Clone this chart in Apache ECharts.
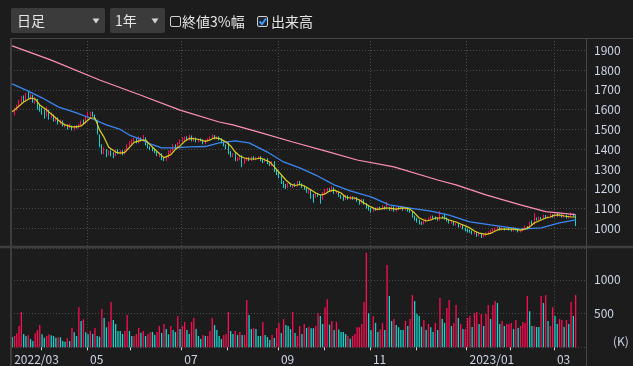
<!DOCTYPE html>
<html><head><meta charset="utf-8">
<script src="https://cdn.jsdelivr.net/npm/echarts@6/dist/echarts.min.js"></script>
<style>html,body{margin:0;padding:0;background:#1c1c1c;overflow:hidden}#c{width:633px;height:366px}</style>
</head><body><div id="c"></div><script>
// ---- data ----
const months = ['2022/03','2022/04','2022/05','2022/06','2022/07','2022/08','2022/09','2022/10','2022/11','2022/12','2023/01','2023/02','2023/03'];
const monthDays = [13,20,19,22,20,22,20,20,20,22,19,19,10];
const xTickLabels = {'2022/03':'2022/03','2022/05':'05','2022/07':'07','2022/09':'09','2022/11':'11','2023/01':'2023/01','2023/03':'03'};

const opens = [
1560,1580,1605,1620,1645,1665,1655,1680,1660,1670,1640,1650,1615,
1605,1590,1575,1595,1560,1570,1545,1555,1530,1540,1515,1520,1510,1515,1500,1515,1510,1525,1545,1535,
1565,1570,1585,1570,1545,1470,1420,1380,1395,1375,1390,1380,1370,1395,1380,1390,1380,1395,1420,
1430,1440,1450,1435,1455,1445,1455,1425,1410,1400,1395,1385,1365,1375,1355,1345,1360,1385,1395,1420,1410,1430,
1440,1450,1462,1450,1465,1445,1455,1440,1450,1445,1430,1445,1450,1460,1468,1455,1460,1450,1435,1420,
1430,1385,1365,1380,1345,1350,1365,1330,1345,1355,1345,1360,1350,1355,1360,1345,1340,1350,1330,1320,1335,1295,
1285,1265,1235,1220,1210,1225,1210,1225,1215,1235,1225,1210,1200,1180,1195,1170,1160,1175,1165,1150,
1180,1190,1200,1190,1205,1180,1185,1165,1160,1150,1165,1150,1160,1150,1155,1140,1130,1145,1125,1110,
1100,1090,1100,1095,1105,1100,1110,1100,1105,1095,1110,1090,1105,1100,1110,1095,1105,1090,1085,1060,
1050,1040,1030,1025,1035,1045,1050,1060,1055,1050,1045,1060,1055,1050,1040,1030,1035,1020,1025,1010,1015,1000,
995,990,985,975,980,965,975,960,965,975,980,990,995,1000,1005,995,1000,995,1000,
995,990,1000,995,985,990,1000,1010,1005,1030,1025,1050,1045,1055,1050,1065,1055,1060,1070,
1060,1075,1065,1070,1060,1065,1055,1060,1070,1065];
const closes = [
1575,1600,1615,1640,1660,1650,1675,1660,1670,1645,1655,1610,1600,
1585,1570,1600,1560,1575,1550,1560,1530,1540,1520,1525,1505,1520,1500,1515,1510,1525,1540,1530,1560,
1575,1580,1570,1555,1480,1420,1385,1400,1370,1390,1375,1365,1395,1380,1390,1375,1395,1420,1430,
1445,1450,1435,1455,1445,1460,1425,1410,1400,1395,1385,1370,1375,1350,1345,1360,1390,1395,1420,1405,1430,1440,
1455,1460,1450,1470,1445,1455,1440,1450,1445,1430,1445,1450,1460,1465,1455,1460,1450,1435,1420,1410,
1380,1370,1375,1345,1355,1360,1330,1350,1355,1345,1360,1350,1355,1360,1345,1340,1350,1330,1320,1335,1290,1280,
1260,1230,1215,1210,1225,1215,1220,1215,1235,1225,1210,1200,1185,1195,1170,1160,1175,1165,1150,1180,
1195,1200,1190,1210,1180,1185,1165,1160,1150,1165,1150,1160,1150,1155,1140,1130,1145,1125,1110,1100,
1090,1100,1095,1105,1100,1110,1100,1105,1095,1110,1090,1105,1100,1110,1095,1105,1090,1085,1060,1050,
1040,1030,1025,1035,1045,1050,1060,1055,1050,1045,1060,1055,1050,1040,1030,1035,1020,1025,1010,1015,1000,995,
990,985,975,980,965,975,960,965,975,980,990,995,1000,1005,995,1000,995,1000,995,
990,1000,995,985,990,1000,1010,1005,1030,1025,1050,1045,1055,1050,1065,1055,1060,1070,1060,
1075,1065,1070,1060,1065,1055,1060,1070,1065,1015];
const highs = [
1590,1610,1625,1650,1670,1672,1685,1690,1680,1675,1665,1655,1625,
1610,1600,1615,1600,1585,1575,1565,1560,1550,1545,1530,1525,1530,1520,1520,1520,1530,1545,1550,1565,
1590,1590,1590,1575,1550,1475,1425,1410,1400,1395,1395,1385,1400,1400,1395,1395,1400,1425,1440,
1450,1458,1455,1465,1460,1472,1460,1430,1415,1410,1400,1390,1385,1380,1360,1365,1395,1400,1425,1425,1435,1450,
1460,1465,1465,1475,1470,1460,1460,1455,1455,1450,1450,1455,1465,1475,1472,1465,1465,1455,1440,1425,
1435,1390,1380,1385,1360,1365,1370,1355,1360,1360,1365,1365,1360,1365,1365,1350,1355,1355,1335,1340,1340,1300,
1290,1270,1240,1225,1230,1230,1225,1228,1240,1240,1228,1215,1205,1200,1198,1175,1180,1180,1170,1185,
1200,1205,1205,1215,1208,1190,1188,1170,1165,1170,1168,1165,1162,1160,1158,1145,1150,1148,1128,1115,
1105,1105,1105,1110,1110,1118,1112,1135,1108,1115,1112,1108,1108,1115,1112,1108,1108,1095,1088,1065,
1055,1045,1035,1040,1050,1055,1065,1065,1060,1055,1088,1062,1075,1055,1045,1040,1038,1030,1028,1020,1018,1005,
1000,995,990,985,982,980,978,970,980,985,995,1000,1005,1010,1008,1005,1003,1005,1003,
1000,1005,1003,1000,995,1005,1015,1012,1035,1040,1078,1055,1060,1058,1070,1068,1065,1075,1072,
1080,1078,1075,1072,1070,1068,1065,1080,1075,1068];
const lows = [
1550,1570,1595,1610,1635,1640,1645,1655,1650,1635,1630,1600,1590,
1575,1555,1565,1550,1555,1540,1540,1525,1525,1515,1510,1500,1505,1495,1495,1505,1505,1520,1525,1530,
1555,1565,1565,1550,1475,1410,1375,1375,1360,1370,1365,1355,1365,1375,1375,1370,1375,1390,1415,
1425,1435,1430,1430,1440,1440,1420,1405,1395,1390,1380,1365,1360,1345,1340,1340,1355,1380,1390,1400,1405,1425,
1435,1445,1445,1445,1440,1440,1435,1435,1440,1425,1425,1440,1445,1455,1450,1450,1445,1430,1415,1400,
1375,1360,1360,1340,1340,1345,1310,1325,1340,1340,1340,1345,1345,1350,1340,1330,1335,1325,1315,1315,1285,1270,
1255,1225,1205,1200,1205,1210,1205,1210,1210,1220,1205,1195,1180,1175,1150,1130,1155,1160,1125,1145,
1175,1185,1185,1185,1175,1175,1160,1150,1140,1145,1145,1145,1145,1145,1135,1120,1125,1120,1100,1090,
1080,1085,1090,1090,1095,1095,1095,1095,1090,1090,1085,1085,1095,1095,1090,1090,1085,1080,1055,1040,
1030,1020,1018,1020,1030,1040,1045,1050,1045,1040,1040,1050,1045,1035,1025,1025,1015,1015,1005,1005,995,985,
980,978,970,970,958,960,952,955,960,970,975,985,990,995,990,990,990,992,990,
985,985,990,980,980,985,995,995,1000,1015,1020,1040,1040,1045,1045,1050,1050,1055,1055,
1055,1060,1060,1055,1055,1050,1050,1058,1060,1012];

// volume in thousands of shares (K)
const volumes = [
152,168,207,316,524,197,168,178,123,94,
207,257,331,193,143,168,193,178,168,143,
148,148,94,84,133,94,286,222,168,593,
390,415,222,193,242,197,286,168,158,568,
435,297,380,672,405,346,242,242,197,242,
479,242,168,168,197,286,217,242,168,197,
222,227,183,227,316,212,346,271,193,316,
257,227,464,271,316,375,257,197,375,435,
271,168,123,183,168,168,242,435,331,257,
168,123,183,197,524,242,197,242,183,227,
183,183,702,479,271,286,271,168,168,375,
183,152,109,183,138,286,361,212,420,331,
316,271,524,212,168,316,197,346,286,301,
282,282,316,504,464,346,593,712,336,390,
257,380,264,227,227,197,168,128,168,197,
297,297,346,672,1404,504,257,464,361,227,
264,361,257,1221,761,390,420,331,297,257,
257,390,316,420,776,687,499,464,306,405,
257,346,297,227,361,257,731,420,361,583,
702,316,361,628,435,346,271,271,435,464,
301,509,524,346,494,316,494,628,420,628,
687,657,346,390,316,346,346,361,271,405,
286,316,375,361,761,534,316,316,301,300,
761,657,776,390,316,593,464,346,420,405,
301,405,346,672,464,776];
// colour of each volume bar as seen (1 = red, 0 = cyan)
const volUp = [
0,1,1,1,1,0,0,1,0,0, 1,1,1,0,0,1,1,0,0,0, 1,0,0,0,1,0,1,0,0,1, 0,1,0,0,1,0,1,0,0,1,
0,0,1,1,0,0,0,0,0,1, 1,0,0,1,1,1,0,1,0,1, 1,0,0,1,1,0,1,0,0,1, 0,0,1,0,1,1,0,0,1,1,
0,0,0,1,0,1,1,1,0,0, 0,0,1,1,1,0,0,1,0,1, 0,1,1,0,0,1,0,0,0,1, 0,0,0,1,0,1,1,0,1,0,
0,0,1,0,1,1,0,1,0,1,
0,0,1,1,0,0,1,1,0,1, 0,1,0,0,0,0,1,0,1,1, 1,1,1,1,1,0,0,1,0,0, 1,1,0,1,0,0,1,0,0,0,
0,1,0,1,1,0,0,0,0,1, 0,1,0,0,1,0,1,0,0,1, 1,0,1,1,0,1,0,1,1,1, 0,1,1,0,1,0,1,1,0,1,
1,0,0,1,0,1,1,1,0,1, 0,1,1,1,1,0,0,1,0,0, 1,0,1,0,1,1,0,0,1,1, 0,1,0,1,0,1];

// moving-average lines read as [day index, price]
const ma5 = [[0,1590],[1,1598],[5,1639],[8,1659],[10,1654],[12,1624],[15,1598],[17,1578],[19,1558],[21,1538],[23,1523],[26,1513],[28,1513],[30,1518],[32,1538],[34,1558],[36,1558],[38,1498],[40,1460],[42,1410],[45,1386],[47,1381],[49,1384],[51,1410],[53,1435],[56,1445],[58,1447],[60,1422],[62,1400],[64,1378],[66,1358],[69,1373],[71,1400],[73,1417],[75,1440],[77,1455],[80,1452],[82,1447],[84,1440],[86,1447],[88,1458],[90,1455],[93,1437],[95,1417],[97,1386],[99,1366],[101,1356],[103,1351],[106,1351],[108,1356],[110,1346],[112,1336],[114,1311],[116,1285],[119,1245],[121,1225],[123,1217],[125,1222],[127,1215],[130,1194],[132,1179],[134,1169],[136,1174],[138,1189],[140,1194],[143,1179],[145,1159],[147,1154],[149,1154],[151,1144],[153,1129],[156,1109],[158,1098],[160,1098],[162,1103],[164,1103],[167,1098],[169,1103],[171,1103],[173,1098],[175,1078],[177,1053],[180,1038],[182,1043],[184,1053],[186,1053],[188,1053],[190,1043],[193,1033],[195,1023],[197,1013],[199,1003],[201,987],[203,977],[206,970],[208,975],[210,987],[212,997],[214,997],[216,997],[218,997],[221,992],[223,997],[225,1008],[227,1028],[230,1043],[232,1053],[234,1058],[236,1068],[238,1068],[240,1063],[243,1058],[245,1058]];
const ma25 = [[0,1730],[7,1694],[13,1660],[20,1614],[27,1588],[34,1558],[41,1523],[47,1500],[51,1472],[56,1450],[60,1427],[65,1407],[71,1407],[77,1412],[84,1414],[90,1432],[97,1442],[103,1432],[111,1386],[118,1336],[125,1306],[132,1270],[140,1220],[147,1190],[156,1160],[164,1119],[173,1103],[182,1088],[190,1068],[199,1033],[208,1018],[221,997],[230,1003],[238,1028],[245,1043]];
const ma75 = [[0,1922],[17,1850],[38,1750],[56,1673],[73,1598],[90,1538],[96,1523],[108,1484],[122,1437],[136,1392],[150,1346],[166,1311],[185,1245],[193,1220],[206,1170],[221,1119],[232,1085],[245,1070]];

// ---- build ----
const RED = '#ff0c52', CYAN = '#16d4cc';
const FONT = '"Noto Sans CJK JP","Noto Sans",sans-serif';
const LABEL = '#cdd6e6';
const GRIDLINE = {color:'#4c4c4c', width:1, type:[1,2]};

const cats = [], monthStart = new Set(), labelAt = {};
let yearStart = 0, pos = 0;
months.forEach((m, mi) => {
  monthStart.add(pos);
  if (xTickLabels[m]) labelAt[pos] = xTickLabels[m];
  if (m === '2023/01') yearStart = pos;
  for (let k = 0; k < monthDays[mi]; k++) cats.push(m + '/' + (k + 1));
  pos += monthDays[mi];
});
for (let k = 0; k < 4; k++) cats.push('pad' + k);

const candleData = closes.map((c, i) => [opens[i], c, lows[i], highs[i]]);
const volData = volumes.map((v, i) => ({value: v, itemStyle: {color: volUp[i] ? RED : CYAN}}));
const splitEven = (i) => i > 0 && labelAt[i] !== undefined;

const chart = echarts.init(document.getElementById('c'), null, {renderer: 'canvas'});
chart.setOption({
  backgroundColor: '#1c1c1c',
  animation: false,
  textStyle: {fontFamily: FONT},
  grid: [
    {left: 11, right: 47, top: 38, height: 210.3},
    {left: 11, right: 47, top: 246.2, height: 101.1}
  ],
  xAxis: [
    {type: 'category', gridIndex: 0, data: cats, boundaryGap: true,
     axisLine: {show: false}, axisTick: {show: false}, axisLabel: {show: false},
     splitLine: {show: true, interval: splitEven, lineStyle: GRIDLINE}},
    {type: 'category', gridIndex: 1, data: cats, boundaryGap: true, position: 'bottom',
     axisLine: {show: false},
     axisTick: {show: true, interval: (i) => i > 0 && monthStart.has(i), length: 3, lineStyle: {color: '#d4d4d4'}},
     axisLabel: {interval: (i) => labelAt[i] !== undefined, formatter: (v, i) => labelAt[i] || '',
                 color: LABEL, fontSize: 12, fontFamily: FONT, align: 'left', margin: 6, padding: [0, 0, 0, 2]},
     splitLine: {show: true, interval: splitEven, lineStyle: GRIDLINE}},
    {type: 'category', gridIndex: 1, data: cats, boundaryGap: true, position: 'bottom',
     axisLine: {show: false}, axisLabel: {show: false}, splitLine: {show: false},
     axisTick: {show: true, interval: (i) => i === yearStart, length: 20, lineStyle: {color: '#bdbdbd'}}}
  ],
  yAxis: [
    {type: 'value', gridIndex: 0, position: 'right', min: 900, max: 1962, interval: 100,
     axisLine: {show: false}, axisTick: {show: false},
     axisLabel: {color: LABEL, fontSize: 12, fontFamily: FONT, margin: 8,
                 formatter: (v) => (v >= 1000 && v <= 1900) ? String(v) : ''},
     splitLine: {show: true, lineStyle: GRIDLINE}},
    {type: 'value', gridIndex: 1, position: 'right', min: 0, max: 1500, interval: 500,
     axisLine: {show: false}, axisTick: {show: false},
     axisLabel: {color: LABEL, fontSize: 12, fontFamily: FONT, margin: 8,
                 formatter: (v) => (v > 0 && v < 1500) ? String(v) : ''},
     splitLine: {show: true, lineStyle: GRIDLINE}}
  ],
  series: [
    {type: 'candlestick', xAxisIndex: 0, yAxisIndex: 0, data: candleData, barWidth: 1,
     itemStyle: {color: RED, color0: CYAN, borderColor: RED, borderColor0: CYAN, borderWidth: 1}, z: 2},
    {type: 'line', xAxisIndex: 0, yAxisIndex: 0, data: ma75, showSymbol: false, z: 3,
     lineStyle: {color: '#ff90b4', width: 1.2}},
    {type: 'line', xAxisIndex: 0, yAxisIndex: 0, data: ma25, showSymbol: false, z: 3,
     lineStyle: {color: '#3b87f2', width: 1.3}},
    {type: 'line', xAxisIndex: 0, yAxisIndex: 0, data: ma5, showSymbol: false, z: 4,
     lineStyle: {color: '#dccf1f', width: 1.2}},
    {type: 'bar', xAxisIndex: 1, yAxisIndex: 1, data: volData, barWidth: 1.3}
  ],
  graphic: [
    // panel frame
    {type: 'line', z: 100, shape: {x1: 10, y1: 38.5, x2: 633, y2: 38.5}, style: {stroke: '#464646', lineWidth: 1}},
    {type: 'rect', z: 100, shape: {x: 0, y: 245.8, width: 633, height: 2.4}, style: {fill: '#3e3e3e'}},
    {type: 'line', z: 100, shape: {x1: 586.5, y1: 38, x2: 586.5, y2: 366}, style: {stroke: '#464646', lineWidth: 1}},
    {type: 'line', z: 100, shape: {x1: 11, y1: 38, x2: 11, y2: 366}, style: {stroke: '#3e3e3e', lineWidth: 2}},
    {type: 'text', z: 100, style: {x: 613, y: 341, text: '(K)', fill: LABEL, font: '12px ' + FONT, verticalAlign: 'middle'}},
    // header controls
    {type: 'rect', z: 100, shape: {x: 11, y: 8, width: 94, height: 25, r: 2}, style: {fill: '#3b3b3b'}},
    {type: 'text', z: 101, style: {x: 17, y: 21, text: '日足', fill: '#e6e6e6', font: '14px ' + FONT, verticalAlign: 'middle'}},
    {type: 'polygon', z: 101, shape: {points: [[92.5, 18.5], [99.5, 18.5], [96, 23.5]]}, style: {fill: '#d6d6d6'}},
    {type: 'rect', z: 100, shape: {x: 110, y: 8, width: 55, height: 25, r: 2}, style: {fill: '#3b3b3b'}},
    {type: 'text', z: 101, style: {x: 115, y: 21, text: '1年', fill: '#e6e6e6', font: '14px ' + FONT, verticalAlign: 'middle'}},
    {type: 'polygon', z: 101, shape: {points: [[151.5, 18.5], [158.5, 18.5], [155, 23.5]]}, style: {fill: '#d6d6d6'}},
    {type: 'rect', z: 100, shape: {x: 170.5, y: 16.5, width: 10, height: 10, r: 1.5}, style: {fill: 'none', stroke: '#d0d0d0', lineWidth: 1}},
    {type: 'text', z: 101, style: {x: 182, y: 21.5, text: '終値3%幅', fill: '#e6e6e6', font: '14px ' + FONT, verticalAlign: 'middle'}},
    {type: 'rect', z: 100, shape: {x: 257.5, y: 16.5, width: 10, height: 10, r: 1.5}, style: {fill: '#202530', stroke: '#d0d0d0', lineWidth: 1}},
    {type: 'polyline', z: 101, shape: {points: [[259.5, 21.5], [262, 24.2], [266, 18.5]]}, style: {stroke: '#3d9bff', lineWidth: 2, fill: 'none'}},
    {type: 'text', z: 101, style: {x: 271, y: 21.5, text: '出来高', fill: '#e6e6e6', font: '14px ' + FONT, verticalAlign: 'middle'}}
  ]
});
</script></body></html>
